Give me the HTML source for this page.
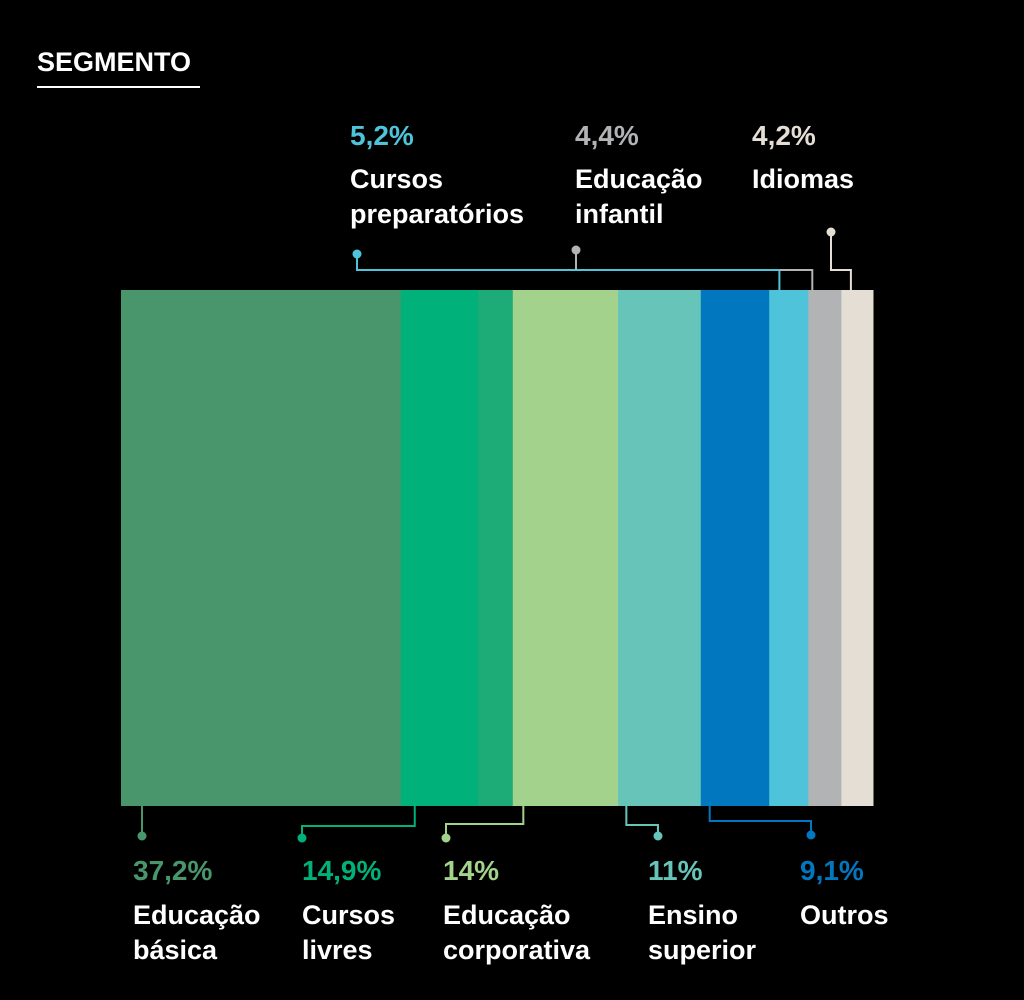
<!DOCTYPE html>
<html><head><meta charset="utf-8"><style>
html,body{margin:0;padding:0;background:#000;}
svg{display:block}
text{font-family:"Liberation Sans",sans-serif;font-weight:bold;}
</style></head><body>
<svg id="chart" width="1024" height="1000" xmlns="http://www.w3.org/2000/svg">
<rect width="1024" height="1000" fill="#000"/>
<text x="37" y="71" font-size="27" fill="#fff">SEGMENTO</text>
<rect x="37" y="86" width="163" height="2" fill="#fff"/>
<g id="bars"></g>
<g id="leaders" fill="none" stroke-width="2"></g>
<g id="labels"></g>
</svg>
<script>
const categories=["Educação básica","Cursos livres","Educação corporativa","Ensino superior","Outros","Cursos preparatórios","Educação infantil","Idiomas"];
const values=[37.2,14.9,14,11,9.1,5.2,4.4,4.2];
const valueLabels=["37,2%","14,9%","14%","11%","9,1%","5,2%","4,4%","4,2%"];
const colors=["#4a966c","#00b27a","#a2d28c","#66c4b8","#0077be","#4fc3d9","#b2b3b5","#e4ded5"];
const X0=121,X1=873,Y0=290,Y1=806;
const total=values.reduce((a,b)=>a+b,0);
function xs(v){return X0+(X1-X0)*v/total;}
const ns="http://www.w3.org/2000/svg";
const barsG=document.getElementById('bars'),leadersG=document.getElementById('leaders'),labelsG=document.getElementById('labels');
let cum=0;const segs=[];
values.forEach((v,i)=>{
  const a=xs(cum),b=xs(cum+v);cum+=v;segs.push([a,b]);
  const r=document.createElementNS(ns,'rect');
  r.setAttribute('x',a);r.setAttribute('y',Y0);r.setAttribute('width',b-a+0.5);r.setAttribute('height',Y1-Y0);r.setAttribute('fill',colors[i]);
  
  
  barsG.appendChild(r);
  if(i===1){const r2=document.createElementNS(ns,'rect');
    r2.setAttribute('x',a+(b-a)*0.69);r2.setAttribute('y',Y0);r2.setAttribute('width',(b-a)*0.31);r2.setAttribute('height',Y1-Y0);r2.setAttribute('fill','#1dab78');
    
    
    barsG.appendChild(r2);}
});
const bottomLeaders=[[0.076,null,142,836,133],[0.125,826,302,838,302],[0.1,824,446,838,443],[0.1,825,658,836,648],[0.13,821,811,835,800]];
function addPath(d,c,name){const p=document.createElementNS(ns,'path');p.setAttribute('d',d);p.setAttribute('stroke',c);
  
  
  leadersG.appendChild(p);}
function addDot(x,y,c,name){const e=document.createElementNS(ns,'circle');e.setAttribute('cx',x);e.setAttribute('cy',y);e.setAttribute('r',4.5);e.setAttribute('fill',c);
  
  
  labelsG.appendChild(e);}
function addText(x,y,s,c,name,size){const t=document.createElementNS(ns,'text');t.setAttribute('x',x);t.setAttribute('y',y);t.setAttribute('fill',c);t.setAttribute('font-size',size||27);t.textContent=s;
  
  
  labelsG.appendChild(t);}
const labelLines=[["Educação","básica"],["Cursos","livres"],["Educação","corporativa"],["Ensino","superior"],["Outros"],["Cursos","preparatórios"],["Educação","infantil"],["Idiomas"]];
bottomLeaders.forEach((b,i)=>{
  const [a,e]=segs[i];const bx=a+(e-a)*b[0];const c=colors[i];
  if(b[1]===null)addPath(`M${b[2]},${Y1} V${b[3]}`,c,'leader-'+(i+1));
  else addPath(`M${bx},${Y1} V${b[1]} H${b[2]} V${b[3]}`,c,'leader-'+(i+1));
  addDot(b[2],b[3],c,'leader-dot-'+(i+1));
  addText(b[4],880,valueLabels[i],c,'value-label-'+(i+1),28);
  labelLines[i].forEach((l,k)=>addText(b[4],924+k*35,l,'#fff','category-label-'+(i+1),27));
});
const pSeg=segs[5],iSeg=segs[6],dSeg=segs[7];
const px=pSeg[0]+(pSeg[1]-pSeg[0])*0.26,ix=iSeg[0]+(iSeg[1]-iSeg[0])*0.12,dx=dSeg[0]+(dSeg[1]-dSeg[0])*0.3;
addPath(`M357,254 V270 H${px} V${Y0}`,colors[5],'leader-6');
addPath(`M576,250 V270`,colors[6],'leader-7a');
addPath(`M${px},270 H${ix} V${Y0}`,colors[6],'leader-7');
addPath(`M831,232 V270 H${dx} V${Y0}`,colors[7],'leader-8');
addDot(357,254,colors[5],'leader-dot-6');addDot(576,250,colors[6],'leader-dot-7');addDot(831,232,colors[7],'leader-dot-8');
const topLeaders=[[350,5],[575,6],[752,7]];
topLeaders.forEach(([x,i])=>{
  addText(x,145,valueLabels[i],colors[i],'value-label-'+(i+1),28);
  labelLines[i].forEach((l,k)=>addText(x,188+k*35,l,'#fff','category-label-'+(i+1),27));
});
</script>
</body></html>
